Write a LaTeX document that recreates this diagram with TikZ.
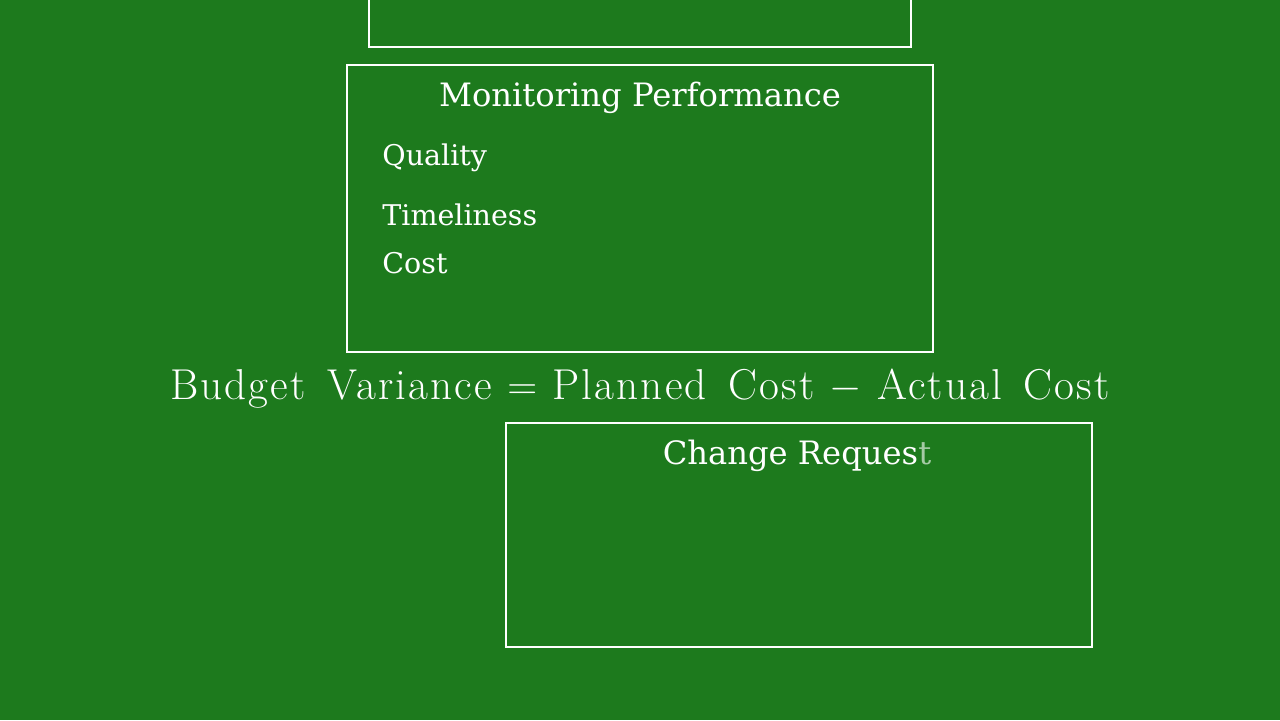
\documentclass[tikz,border=0pt]{standalone}
\usepackage{fontspec}
\newfontfamily\boxfont{DejaVu Serif}[Scale=0.92]
\newfontfamily\formfont{Latin Modern Roman}[LetterSpace=5]
\definecolor{bg}{HTML}{1D7A1D}
\begin{document}
\begin{tikzpicture}[x=0.5pt,y=-0.5pt,
  box/.style={draw=white,line width=1.2pt},
  lbl/.style={text=white,font=\boxfont\fontsize{17.5}{20}\selectfont,inner sep=0pt},
  item/.style={text=white,font=\boxfont\fontsize{15.5}{18}\selectfont,inner sep=0pt,anchor=west}]
\fill[bg] (0,0) rectangle (1280,720);
\useasboundingbox (0,0) rectangle (1280,720);
\draw[box] (369,-5) rectangle (911,47);
\draw[box] (347,65) rectangle (933,352);
\draw[box] (506,423) rectangle (1092,647);
\node[lbl] (t) at (640,98) {Monitoring Performance};
\node[item] (q) at (382,158) {Quality};
\node[item] (tm) at (382,215) {Timeliness};
\node[item] (c) at (382,263) {Cost};
\node[text=white,inner sep=0pt,font=\formfont\fontsize{21.6}{24}\selectfont] (f) at (640,389) {Budget\enspace Variance $=$ Planned\enspace Cost $-$ Actual\enspace Cost};
\node[lbl] (cr) at (797,456) {Change Reques\textcolor{white!60!bg}{t}};
\end{tikzpicture}
\end{document}
